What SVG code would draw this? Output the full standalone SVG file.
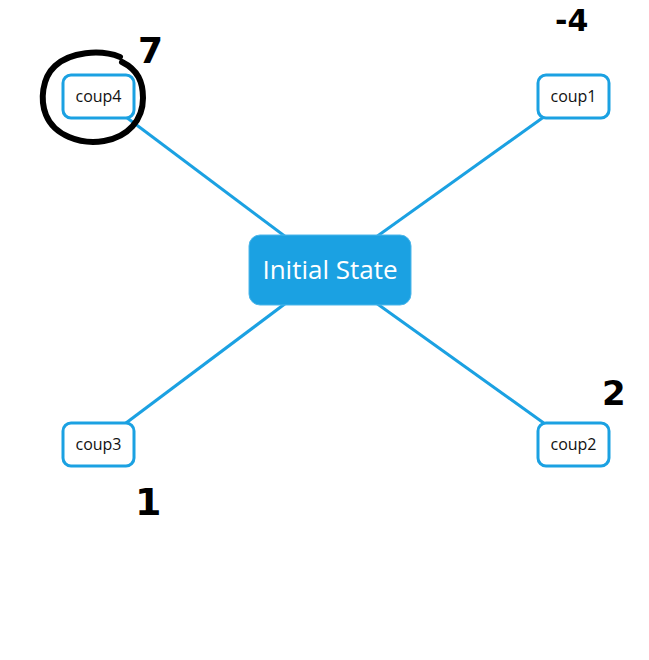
<svg xmlns="http://www.w3.org/2000/svg" width="649" height="660" viewBox="0 0 649 660">
<style>
.edge{stroke:#1ba1e2;stroke-width:3;fill:none}
.leaf rect{fill:#fff;stroke:#1ba1e2;stroke-width:3}
.leaf text{font-family:"Open Sans","Noto Sans",sans-serif;font-size:16px;fill:#111;text-anchor:middle}
.ink{font-family:"DejaVu Sans",sans-serif;font-weight:bold;fill:#000}
</style>
<rect width="649" height="660" fill="#fff"/>
<g id="connectors">
<line class="edge" x1="98" y1="96" x2="330" y2="270"/>
<line class="edge" x1="573" y1="96" x2="330" y2="270"/>
<line class="edge" x1="98" y1="444" x2="330" y2="270"/>
<line class="edge" x1="573" y1="444" x2="330" y2="270"/>
</g>
<g id="root">
<rect x="249" y="235" width="162" height="70" rx="11" fill="#1ba1e2" stroke="#4db6ea" stroke-width="1"/>
<text x="330" y="279" font-family="Open Sans,Noto Sans,sans-serif" font-size="26" fill="#fff" text-anchor="middle">Initial State</text>
</g>
<g id="coup4" class="leaf">
<rect x="63" y="75" width="71" height="43" rx="8"/>
<text x="98.5" y="102">coup4</text>
</g>
<g id="coup1" class="leaf">
<rect x="538" y="75" width="71" height="43" rx="8"/>
<text x="573.5" y="102">coup1</text>
</g>
<g id="coup3" class="leaf">
<rect x="63" y="423" width="71" height="43" rx="8"/>
<text x="98.5" y="450">coup3</text>
</g>
<g id="coup2" class="leaf">
<rect x="538" y="423" width="71" height="43" rx="8"/>
<text x="573.5" y="450">coup2</text>
</g>
<g id="annotations">
<path d="M120 57 C100 49 70 52 55 66 C42 78 40 100 46 115 C54 135 80 145 104 141 C128 137 143 120 143 98 C143 82 138 70 122 62" fill="none" stroke="#000" stroke-width="6" stroke-linecap="round" stroke-linejoin="round"/>
<text class="ink" x="138" y="63" font-size="36">7</text>
<text class="ink" x="555" y="31" font-size="30">-4</text>
<text class="ink" x="602" y="405" font-size="34">2</text>
<text class="ink" x="135" y="515" font-size="38">1</text>
</g>
</svg>
